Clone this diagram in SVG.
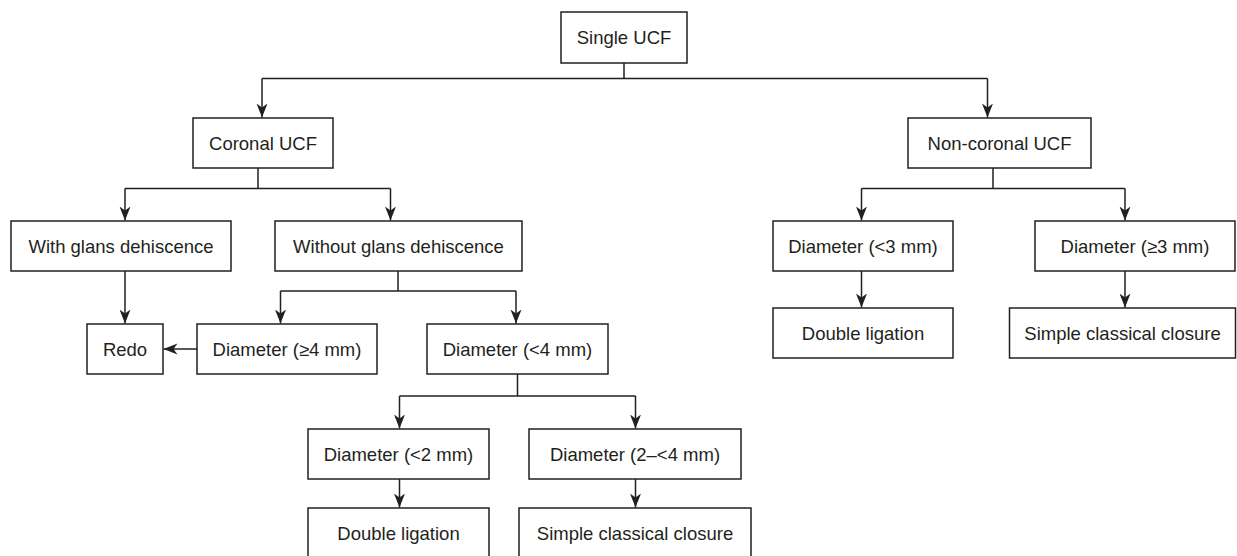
<svg xmlns="http://www.w3.org/2000/svg" width="1237" height="556" viewBox="0 0 1237 556">
  <style>
    .box { fill: #ffffff; stroke: #231f20; stroke-width: 1.5; }
    .lbl { font-family: "Liberation Sans", Arial, Helvetica, sans-serif; font-size: 18.5px; fill: #231f20; text-anchor: middle; }
    .conn { fill: none; stroke: #231f20; stroke-width: 1.5; }
    .arr { marker-end: url(#ah); }
  </style>
  <defs>
    <marker id="ah" markerUnits="userSpaceOnUse" markerWidth="16" markerHeight="12" refX="14" refY="5.5" orient="auto">
      <path d="M0,0 L14,5.5 L0,11 L4,5.5 Z" fill="#231f20"/>
    </marker>
  </defs>
  <rect width="1237" height="556" fill="#ffffff"/>

  <g id="connectors">
    <path class="conn" d="M624,63 V78.5 M262,78.5 H987.5"/>
    <path class="conn arr" d="M262,78.5 V117.5"/>
    <path class="conn arr" d="M987.5,78.5 V117.5"/>

    <path class="conn" d="M258,168 V188.5 M125,188.5 H390.5"/>
    <path class="conn arr" d="M125,188.5 V220.5"/>
    <path class="conn arr" d="M390.5,188.5 V220.5"/>

    <path class="conn arr" d="M125,271 V323.5"/>

    <path class="conn" d="M398,271 V291 M280.5,291 H516"/>
    <path class="conn arr" d="M280.5,291 V323.5"/>
    <path class="conn arr" d="M516,291 V323.5"/>

    <path class="conn arr" d="M197,349 H163.5"/>

    <path class="conn" d="M517.5,374 V396 M399.5,396 H635.5"/>
    <path class="conn arr" d="M399.5,396 V428.5"/>
    <path class="conn arr" d="M635.5,396 V428.5"/>

    <path class="conn arr" d="M399.5,479 V507.5"/>
    <path class="conn arr" d="M635.5,479 V507.5"/>

    <path class="conn" d="M993,168 V188.5 M861.5,188.5 H1125"/>
    <path class="conn arr" d="M861.5,188.5 V220.5"/>
    <path class="conn arr" d="M1125,188.5 V220.5"/>

    <path class="conn arr" d="M861.5,271 V307.5"/>
    <path class="conn arr" d="M1125,271 V307.5"/>
  </g>

  <g id="single-ucf">
    <rect class="box" x="561" y="12" width="126" height="51"/>
    <text class="lbl" x="624" y="44">Single UCF</text>
  </g>
  <g id="coronal-ucf">
    <rect class="box" x="193" y="118" width="140" height="50"/>
    <text class="lbl" x="263" y="149.5">Coronal UCF</text>
  </g>
  <g id="non-coronal-ucf">
    <rect class="box" x="908" y="118" width="183" height="50"/>
    <text class="lbl" x="999.5" y="149.5">Non-coronal UCF</text>
  </g>
  <g id="with-glans">
    <rect class="box" x="11" y="221" width="220" height="50"/>
    <text class="lbl" x="121" y="252.5">With glans dehiscence</text>
  </g>
  <g id="without-glans">
    <rect class="box" x="275" y="221" width="247" height="50"/>
    <text class="lbl" x="398.5" y="252.5">Without glans dehiscence</text>
  </g>
  <g id="diam-lt3">
    <rect class="box" x="773" y="221" width="180" height="50"/>
    <text class="lbl" x="863" y="252.5">Diameter (&lt;3 mm)</text>
  </g>
  <g id="diam-ge3">
    <rect class="box" x="1035" y="221" width="200" height="50"/>
    <text class="lbl" x="1135" y="252.5">Diameter (≥3 mm)</text>
  </g>
  <g id="redo">
    <rect class="box" x="87" y="324" width="76" height="50"/>
    <text class="lbl" x="125" y="355.5">Redo</text>
  </g>
  <g id="diam-ge4">
    <rect class="box" x="197" y="324" width="180" height="50"/>
    <text class="lbl" x="287" y="355.5">Diameter (≥4 mm)</text>
  </g>
  <g id="diam-lt4">
    <rect class="box" x="427" y="324" width="181" height="50"/>
    <text class="lbl" x="517.5" y="355.5">Diameter (&lt;4 mm)</text>
  </g>
  <g id="double-ligation-right">
    <rect class="box" x="773" y="308" width="180" height="50"/>
    <text class="lbl" x="863" y="339.5">Double ligation</text>
  </g>
  <g id="simple-closure-right">
    <rect class="box" x="1009.5" y="308" width="226" height="50"/>
    <text class="lbl" x="1122.5" y="339.5">Simple classical closure</text>
  </g>
  <g id="diam-lt2">
    <rect class="box" x="308" y="429" width="181" height="50"/>
    <text class="lbl" x="398.5" y="460.5">Diameter (&lt;2 mm)</text>
  </g>
  <g id="diam-2-lt4">
    <rect class="box" x="529" y="429" width="212" height="50"/>
    <text class="lbl" x="635" y="460.5">Diameter (2–&lt;4 mm)</text>
  </g>
  <g id="double-ligation-left">
    <rect class="box" x="308" y="508" width="181" height="50"/>
    <text class="lbl" x="398.5" y="539.5">Double ligation</text>
  </g>
  <g id="simple-closure-left">
    <rect class="box" x="519" y="508" width="232" height="50"/>
    <text class="lbl" x="635" y="539.5">Simple classical closure</text>
  </g>
</svg>
